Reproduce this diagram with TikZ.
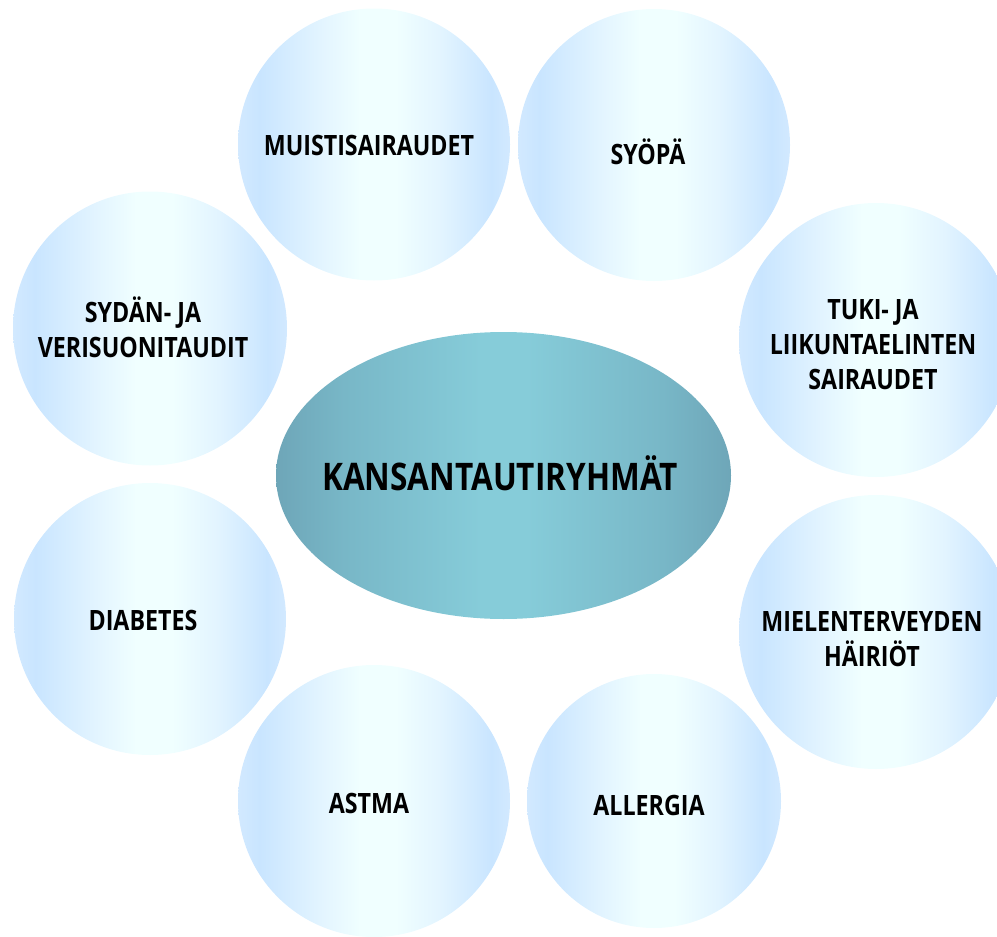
\documentclass[tikz,border=0pt]{standalone}
\usepackage{fontspec}
\newfontfamily\lblfont{Open Sans}[FakeStretch=0.83]
\usetikzlibrary{shapes.geometric}
\definecolor{bubedgeA}{HTML}{D2E9FF}
\definecolor{bubedge}{HTML}{C9E5FF}
\definecolor{bubsoft}{HTML}{E2F4FF}
\definecolor{bubmid}{HTML}{F0FFFF}
\definecolor{elledge}{HTML}{6EA6B8}
\definecolor{ellside}{HTML}{78B7C7}
\definecolor{ellmid}{HTML}{86CCD9}
\pgfdeclarehorizontalshading{bubshade}{100bp}{
  color(0bp)=(bubedgeA);
  color(25bp)=(bubedgeA);
  color(29bp)=(bubedge);
  color(40bp)=(bubsoft);
  color(47.5bp)=(bubmid);
  color(54bp)=(bubmid);
  color(62.5bp)=(bubsoft);
  color(71.5bp)=(bubedge);
  color(75bp)=(bubedgeA);
  color(100bp)=(bubedgeA)}
\pgfdeclarehorizontalshading{hubshade}{100bp}{
  color(0bp)=(elledge);
  color(25bp)=(elledge);
  color(32.5bp)=(ellside);
  color(47.5bp)=(ellmid);
  color(52.5bp)=(ellmid);
  color(67.5bp)=(ellside);
  color(75bp)=(elledge);
  color(100bp)=(elledge)}
\tikzset{
  bubble/.style={circle, inner sep=0pt, draw=none, shading=bubshade},
  hub/.style={ellipse, inner sep=0pt, draw=none, shading=hubshade},
  lbl/.style={align=center, inner sep=0pt, font=\lblfont\bfseries\fontsize{28}{35}\selectfont},
  hublbl/.style={align=center, inner sep=0pt, font=\lblfont\bfseries\fontsize{38}{44}\selectfont}
}
\begin{document}
\begin{tikzpicture}[x=1pt,y=-1pt]
\useasboundingbox (0,0) rectangle (997,937);
\clip (0,0) rectangle (997,937);
\node[bubble, minimum size=272pt] (muisti) at (374,144.5) {};
\node[bubble, minimum size=272pt] (syopa) at (654,145) {};
\node[bubble, minimum size=274pt] (tuki) at (876,340) {};
\node[bubble, minimum size=274pt] (mielen) at (876,632) {};
\node[bubble, minimum size=254pt] (allergia) at (654,801) {};
\node[bubble, minimum size=272pt] (astma) at (374,801) {};
\node[bubble, minimum size=272pt] (diabetes) at (150,619) {};
\node[bubble, minimum size=274pt] (sydan) at (150,328.5) {};
\node[hub, minimum width=455pt, minimum height=287pt] (hub) at (503.5,475.5) {};
\node[lbl] (tmuisti) at (369,145) {MUISTISAIRAUDET};
\node[lbl] (tsyopa) at (648,152) {SYÖPÄ};
\node[lbl] (ttuki) at (873,345) {TUKI- JA\\LIIKUNTAELINTEN\\SAIRAUDET};
\node[lbl] (tmielen) at (872,639) {MIELENTERVEYDEN\\HÄIRIÖT};
\node[lbl] (tallergia) at (649,805) {ALLERGIA};
\node[lbl] (tastma) at (369,803) {ASTMA};
\node[lbl] (tdiabetes) at (143,620) {DIABETES};
\node[lbl] (tsydan) at (143,327) {SYDÄN- JA\\VERISUONITAUDIT};
\node[hublbl] (thub) at (500,473) {KANSANTAUTIRYHMÄT};
\end{tikzpicture}
\end{document}
